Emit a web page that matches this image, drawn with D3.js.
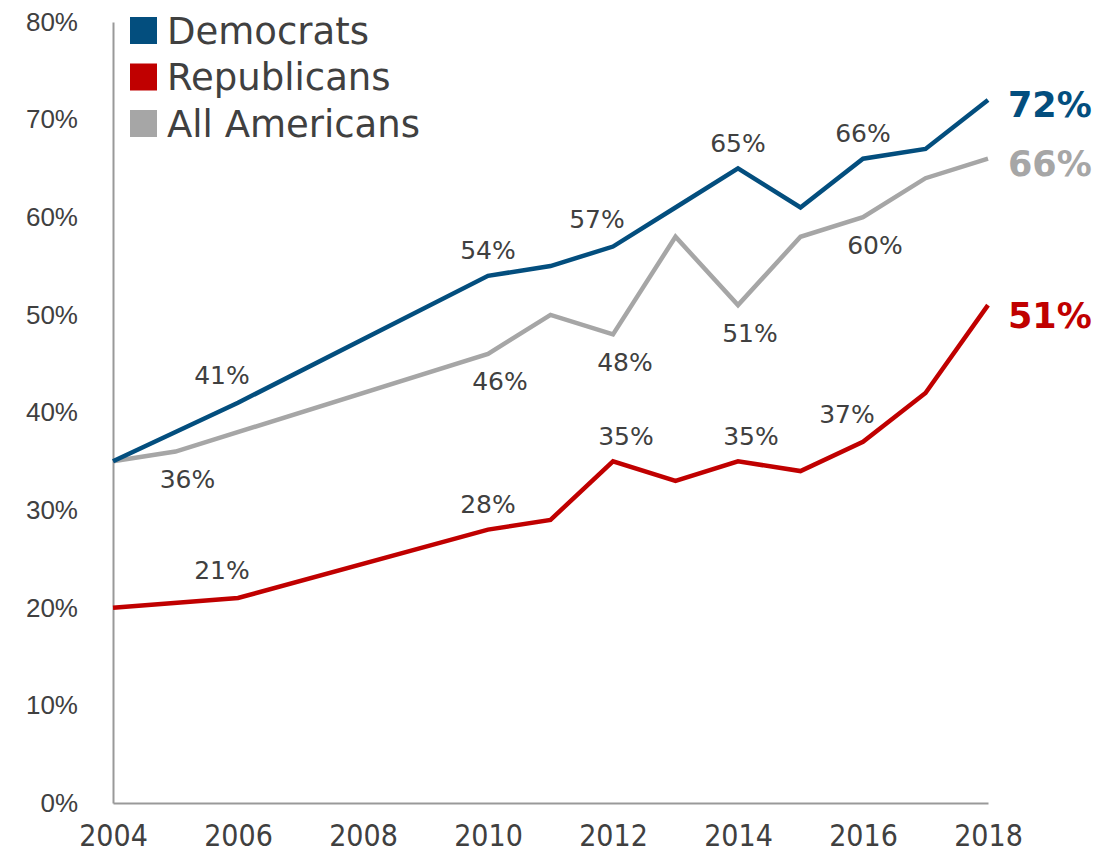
<!DOCTYPE html>
<html>
<head>
<meta charset="utf-8">
<script src="https://cdn.jsdelivr.net/npm/d3@7"></script>
<style>
  body { margin: 0; background: #fff; }
  svg { display: block; font-family: 'DejaVu Sans', sans-serif; }
  .axis .domain { stroke: #999; stroke-width: 2; }
  .axis text { fill: #404040; }
</style>
</head>
<body>
<div id="chart"></div>
<script>
const years = [2004, 2005, 2006, 2010, 2011, 2012, 2013, 2014, 2015, 2016, 2017, 2018]
// null where the series has no point for that year
const democrats = [35, null, 41, 54, 55, 57, 61, 65, 61, 66, 67, 72]
const republicans = [20, null, 21, 28, 29, 35, 33, 35, 34, 37, 42, 51]
const allAmericans = [35, 36, null, 46, 50, 48, 58, 51, 58, 60, 64, 66]

const yTicks = [0, 10, 20, 30, 40, 50, 60, 70, 80]
const xTicks = [2004, 2006, 2008, 2010, 2012, 2014, 2016, 2018]

// which points get a value label, and on which side
const demLabels = [[2006, 'aboveLeft'], [2010, 'above'], [2012, 'aboveLeft'], [2014, 'above'], [2016, 'above']]
const repLabels = [[2006, 'aboveLeft'], [2010, 'above'], [2012, 'aboveRight'], [2014, 'aboveRight'], [2016, 'aboveLeft']]
const allLabels = [[2005, 'below'], [2010, 'below'], [2012, 'below'], [2014, 'below'], [2016, 'below']]

const series = [
  { name: 'Democrats', values: democrats, color: '#034E7E', labels: demLabels },
  { name: 'Republicans', values: republicans, color: '#C00000', labels: repLabels },
  { name: 'All Americans', values: allAmericans, color: '#A6A6A6', labels: allLabels },
]

const width = 1112
const height = 855
const margin = { top: 22, right: 124, bottom: 52, left: 113 }

const svg = d3.select('#chart')
  .append('svg')
  .attr('width', width)
  .attr('height', height)

const x = d3.scaleLinear()
  .domain([2004, 2018])
  .range([margin.left, width - margin.right])

const y = d3.scaleLinear()
  .domain([0, 80])
  .range([height - margin.bottom, margin.top])

// y axis
svg.append('g')
  .attr('class', 'axis axis-y')
  .attr('transform', `translate(${margin.left},0)`)
  .call(d3.axisLeft(y).tickValues(yTicks).tickSize(0).tickPadding(35).tickFormat((d) => d + '%'))
  .selectAll('text')
  .style('font-size', '26px')

// x axis
svg.append('g')
  .attr('class', 'axis axis-x')
  .attr('transform', `translate(0,${y(0)})`)
  .call(d3.axisBottom(x).tickValues(xTicks).tickSize(0).tickPadding(22).tickFormat(d3.format('d')))
  .selectAll('text')
  .style('font-size', '30px')
  .style('font-family', "'DejaVu Sans Condensed', sans-serif")
  .style('font-stretch', 'condensed')

const line = d3.line()
  .defined((d) => d.v !== null)
  .x((d) => x(d.year))
  .y((d) => y(d.v))

const offsets = {
  above: [0, -25],
  aboveLeft: [-16, -27],
  aboveRight: [13, -25],
  below: [12, 28],
}

// draw gray first so colored lines are on top
const drawOrder = [series[2], series[1], series[0]]
drawOrder.forEach((s) => {
  const pts = years.map((year, i) => ({ year, v: s.values[i] })).filter((d) => d.v !== null)
  svg.append('path')
    .datum(pts)
    .attr('fill', 'none')
    .attr('stroke', s.color)
    .attr('stroke-width', 4.5)
    .attr('stroke-linejoin', 'miter')
    .attr('d', line)
})

series.forEach((s) => {
  svg.append('g')
    .selectAll('text')
    .data(s.labels)
    .enter()
    .append('text')
    .attr('x', (d) => x(d[0]) + offsets[d[1]][0])
    .attr('y', (d) => y(s.values[years.indexOf(d[0])]) + offsets[d[1]][1])
    .attr('text-anchor', 'middle')
    .attr('dominant-baseline', 'central')
    .style('font-size', '25px')
    .style('fill', '#404040')
    .text((d) => s.values[years.indexOf(d[0])] + '%')

  // end value label
  const last = s.values[s.values.length - 1]
  svg.append('text')
    .attr('x', x(2018) + 20)
    .attr('y', y(last) + (s.name === 'Republicans' ? 11 : 5))
    .attr('dominant-baseline', 'central')
    .style('font-size', '35px')
    .style('font-weight', 'bold')
    .style('fill', s.color)
    .text(last + '%')
})

// legend
const legend = svg.append('g')
  .attr('transform', 'translate(130,17)')
  .selectAll('g')
  .data(series)
  .enter()
  .append('g')
  .attr('transform', (d, i) => `translate(0,${i * 46.5})`)

legend.append('rect')
  .attr('width', 27)
  .attr('height', 27)
  .attr('fill', (d) => d.color)

legend.append('text')
  .attr('x', 37)
  .attr('y', 14)
  .attr('dominant-baseline', 'central')
  .style('font-size', '37px')
  .style('fill', '#404040')
  .text((d) => d.name)
</script>
</body>
</html>
